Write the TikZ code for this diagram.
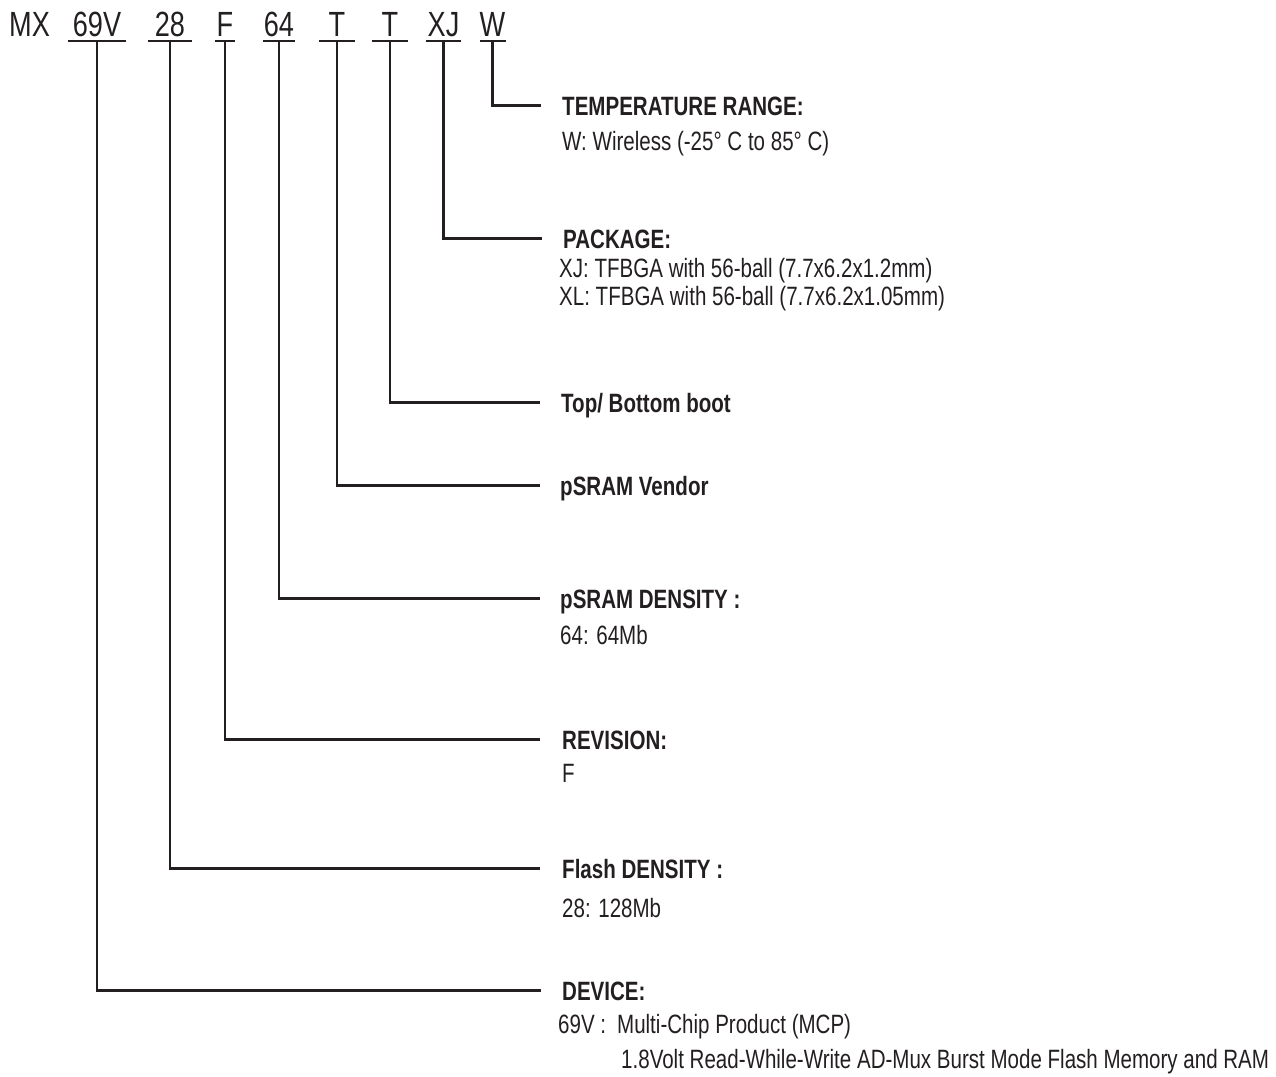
\documentclass[tikz,border=0pt]{standalone}
\usepackage{fontspec}
\setmainfont{Liberation Sans}[FakeStretch=0.775]
\definecolor{ink}{HTML}{231F20}
\tikzset{
% Part number letters, headings and their description lines
code node/.style={anchor=base, inner xsep=0, inner ysep=5pt, text depth=0pt, text=ink, font=\fontsize{35}{40}\selectfont},
head node/.style={anchor=base west, inner sep=0, text height=19pt, text depth=0pt, text=ink, font=\fontsize{26.5}{30}\selectfont\bfseries},
info node/.style={anchor=base west, inner sep=0, text=ink, font=\fontsize{26.5}{30}\selectfont},
lead/.style={draw=ink, line width=2.4pt}
}

\begin{document}
\begin{tikzpicture}[x=1pt, y=-1pt]
  \useasboundingbox (0,0) rectangle (1276,1076);

  % part number
  \node[code node] (code-mx) at (29.5,36) {MX};
  \node[code node, minimum width=58] (code-dev) at (97,36) {69V};
  \node[code node, minimum width=44] (code-flash) at (170,36) {28};
  \node[code node, minimum width=20] (code-rev) at (225,36) {F};
  \node[code node, minimum width=32] (code-psram) at (279,36) {64};
  \node[code node, minimum width=36] (code-vendor) at (337,36) {T};
  \node[code node, minimum width=36] (code-boot) at (390,36) {T};
  \node[code node, minimum width=35] (code-pkg) at (443.5,36) {XJ};
  \node[code node, minimum width=21] (code-temp) at (492.5,36) {W};

  % fields
  \node[head node] (head-temp) at (562,115) {TEMPERATURE RANGE:};
  \node[info node] at (562,150) {W: Wireless (-25° C to 85° C)};

  \node[head node] (head-pkg) at (563,248) {PACKAGE:};
  \node[info node] at (559,277) {XJ: TFBGA with 56-ball (7.7x6.2x1.2mm)};
  \node[info node] at (559,305) {XL: TFBGA with 56-ball (7.7x6.2x1.05mm)};

  \node[head node] (head-boot) at (561,412) {Top/ Bottom boot};

  \node[head node] (head-vendor) at (560,495) {pSRAM Vendor};

  \node[head node] (head-psram) at (560,608) {pSRAM DENSITY :};
  \node[info node] at (560,644) {64: 64Mb};

  \node[head node] (head-rev) at (562,749) {REVISION:};
  \node[info node] at (562,782) {F};

  \node[head node] (head-flash) at (562,878) {Flash DENSITY :};
  \node[info node] at (562,917) {28: 128Mb};

  \node[head node] (head-dev) at (562,1000) {DEVICE:};
  \node[info node] at (558,1033) {69V :\hspace{11pt}Multi-Chip Product (MCP)};
  \node[info node] at (621,1068) {1.8Volt Read-While-Write AD-Mux Burst Mode Flash Memory and RAM};

  % leaders
  \draw[lead] (code-temp.south west) -- (code-temp.south east)
    (code-temp.south) |- ([xshift=-21pt]head-temp.west);
  \draw[lead] (code-pkg.south west) -- (code-pkg.south east)
    (code-pkg.south) |- ([xshift=-21pt]head-pkg.west);
  \draw[lead] (code-boot.south west) -- (code-boot.south east)
    (code-boot.south) |- ([xshift=-21pt]head-boot.west);
  \draw[lead] (code-vendor.south west) -- (code-vendor.south east)
    (code-vendor.south) |- ([xshift=-20pt]head-vendor.west);
  \draw[lead] (code-psram.south west) -- (code-psram.south east)
    (code-psram.south) |- ([xshift=-20pt]head-psram.west);
  \draw[lead] (code-rev.south west) -- (code-rev.south east)
    (code-rev.south) |- ([xshift=-22pt]head-rev.west);
  \draw[lead] (code-flash.south west) -- (code-flash.south east)
    (code-flash.south) |- ([xshift=-22pt]head-flash.west);
  \draw[lead] (code-dev.south west) -- (code-dev.south east)
    (code-dev.south) |- ([xshift=-21pt]head-dev.west);
\end{tikzpicture}
\end{document}
